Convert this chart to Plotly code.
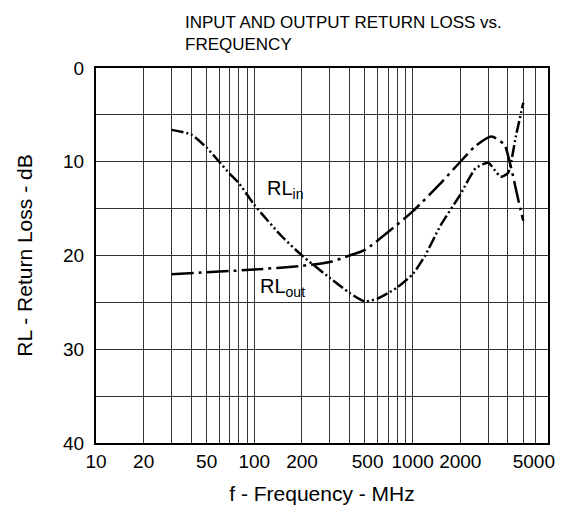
import plotly.graph_objects as go

# Frequency points (MHz) and return loss values (dB)
freq_in = [30, 40, 50, 60, 70, 80, 100, 150, 200, 300, 400, 500, 600, 700, 800, 1000, 1200, 1500, 2000, 2500, 3000, 3300, 3600, 4000, 4500, 5000]
rl_in = [6.6, 7.1, 8.5, 10.0, 11.3, 12.3, 14.6, 18.0, 20.0, 22.4, 24.0, 24.9, 24.6, 24.0, 23.4, 22.0, 20.0, 16.8, 13.5, 10.7, 10.1, 10.9, 11.6, 11.2, 7.2, 3.7]

freq_out = [30, 100, 200, 300, 400, 500, 700, 1000, 1500, 2000, 2500, 3150, 3800, 4100, 4800, 5000]
rl_out = [22.0, 21.5, 21.1, 20.7, 20.0, 19.4, 17.5, 15.3, 12.3, 10.0, 8.3, 7.3, 8.2, 10.0, 15.1, 16.3]

NB = "\u00a0"
x_tickvals = [10, 20, 50, 100, 200, 500, 1000, 2000, 5000]
x_ticktext = ["10", "20", "50", "100", "200", NB + "500", "1000", "2000", NB * 4 + "5000"]
x_minor = [30, 40, 60, 70, 80, 90, 300, 400, 600, 700, 800, 900, 3000, 4000, 6000]
y_tickvals = [0, 10, 20, 30, 40]

FONT = "Arial, Liberation Sans, sans-serif"

fig = go.Figure()
fig.add_trace(go.Scatter(
    x=freq_in, y=rl_in, mode="lines", name="RLin",
    line=dict(color="black", width=2.5, shape="spline", smoothing=0.6,
              dash="12px,3px,2px,3px,2px,3px"),
))
fig.add_trace(go.Scatter(
    x=freq_out, y=rl_out, mode="lines", name="RLout",
    line=dict(color="black", width=2.5, shape="spline", smoothing=0.6,
              dash="22px,5px,3px,5px"),
))

# page body has an 8px default margin, so the figure is sized to fit inside it
fig.update_layout(
    width=566, height=509,
    margin=dict(l=88, r=26, t=60, b=74),
    paper_bgcolor="white", plot_bgcolor="white",
    showlegend=False,
    font=dict(family=FONT, size=19, color="black"),
)

fig.update_xaxes(
    type="log", range=[1, 3.855],
    tickvals=x_tickvals, ticktext=x_ticktext, tickangle=0,
    showgrid=True, gridcolor="#333", gridwidth=1,
    minor=dict(tickvals=x_minor, showgrid=True, gridcolor="#333", gridwidth=1, ticks=""),
    ticks="", showline=True, linecolor="black", linewidth=2, mirror=True,
    tickfont=dict(size=19), ticklabelstandoff=0,
    title=dict(text="f - Frequency - MHz", font=dict(size=21), standoff=16),
    zeroline=False, automargin=False,
)
fig.update_yaxes(
    range=[40, 0], tickvals=y_tickvals,
    showgrid=True, gridcolor="#333", gridwidth=1,
    minor=dict(dtick=5, showgrid=True, gridcolor="#333", gridwidth=1, ticks=""),
    ticks="", showline=True, linecolor="black", linewidth=2, mirror=True,
    tickfont=dict(size=19), ticklabelstandoff=6,
    title=dict(text="RL - Return Loss - dB", font=dict(size=21), standoff=25),
    zeroline=False, automargin=False,
)

fig.add_annotation(
    xref="paper", yref="paper", x=(183 - 96) / 452, y=1 + 35 / 375,
    xanchor="left", yanchor="middle", align="left", showarrow=False,
    text="INPUT AND OUTPUT RETURN LOSS vs.<br>FREQUENCY",
    font=dict(size=17, family=FONT),
)
fig.add_annotation(
    x=2.066, y=13.0, xanchor="left", yanchor="middle", showarrow=False,
    text="RL<sub>in</sub>", font=dict(size=20, family=FONT),
)
fig.add_annotation(
    x=2.022, y=23.4, xanchor="left", yanchor="middle", showarrow=False,
    text="RL<sub>out</sub>", font=dict(size=20, family=FONT),
)

fig.write_html("out.html")
